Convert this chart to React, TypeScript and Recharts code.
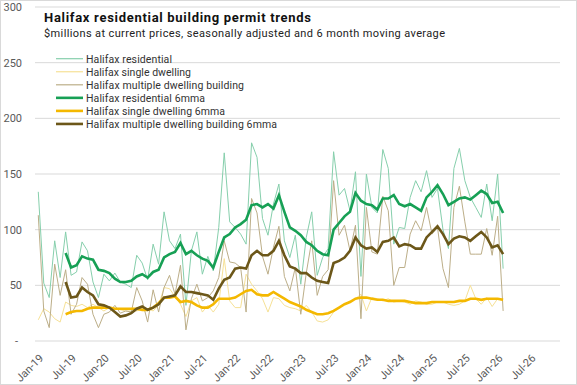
import React from 'react';
import { LineChart, Line, XAxis, YAxis, CartesianGrid } from 'recharts';

const tickLabels = ['Jan-19','Jul-19','Jan-20','Jul-20','Jan-21','Jul-21','Jan-22','Jul-22','Jan-23','Jul-23','Jan-24','Jul-24','Jan-25','Jul-25','Jan-26','Jul-26'];

const residential = [134,52,39,90,57,98,59,62,89,81,53,39,60,54,61,53,51,48,77,70,
  55,87,69,116,90,83,96,32,81,98,60,76,63,102,169,107,102,96,87,178,
  165,110,95,123,141,90,75,95,51,93,116,59,75,83,170,131,137,117,152,58,
  150,120,115,172,155,87,102,101,129,144,134,153,129,137,100,83,155,173,144,129,
  120,111,141,108,150,65];

const single = [19,29,26,20,17,35,32,31,33,30,33,30,27,30,29,28,27,27,27,29,
  29,27,32,48,47,40,33,22,36,39,26,32,26,33,74,36,30,30,60,51,
  45,38,26,39,38,32,30,29,27,32,26,18,17,19,26,30,33,36,38,42,
  27,39,38,36,38,35,36,35,33,36,35,33,33,35,35,33,32,33,36,50,
  38,33,39,31,38,36];

const multiple = [113,27,12,69,41,64,24,33,57,51,24,12,24,26,32,25,27,26,48,36,
  17,46,26,48,59,42,68,10,38,51,36,39,45,57,90,71,70,66,26,128,
  115,76,60,84,103,58,45,66,24,61,90,41,58,64,144,95,104,81,104,20,
  120,80,78,130,117,50,66,66,96,108,99,120,96,102,65,48,120,139,107,78,
  78,78,101,77,112,27];

const residential6 = [null,null,null,null,null,79,66,68,76,74,73,64,63,61,56,53,53,54,58,60,
  57,62,64,75,78,80,88,78,81,77,74,72,66,80,93,96,102,105,109,122,
  123,120,123,119,131,116,102,99,95,89,86,81,78,77,100,106,112,116,133,126,
  123,122,118,128,128,131,123,121,123,120,117,129,134,140,132,122,125,128,129,127,
  131,135,132,124,125,115];

const single6 = [null,null,null,null,null,24,26,27,27,29,30,30,30,30,29,29,29,29,29,28,
  28,30,34,39,39,40,35,36,35,32,30,30,33,38,38,38,39,42,45,46,
  42,41,41,44,41,38,35,33,31,28,26,24,24,25,27,30,33,35,38,39,
  39,38,37,37,36,36,36,36,35,34,34,34,35,35,35,35,35,36,36,38,
  38,37,38,38,38,37];

const multiple6 = [null,null,null,null,null,53,39,40,48,44,41,33,32,30,26,22,23,25,29,31,
  28,30,33,39,40,41,49,44,44,43,42,41,37,47,55,57,65,66,65,77,
  81,77,77,81,90,77,67,65,61,61,57,54,53,52,70,72,75,81,93,86,
  83,84,80,89,90,93,85,87,86,83,83,93,98,103,96,87,92,94,93,90,
  94,98,93,84,86,78];

const yTicks = [0, 50, 100, 150, 200, 250, 300];

const data = residential.map((v, i) => ({
  m: i,
  residential: v,
  single: single[i],
  multiple: multiple[i],
  residential6: residential6[i],
  single6: single6[i],
  multiple6: multiple6[i],
}));

const xTicks = tickLabels.map((_, i) => i * 6);

const FONT = 'Roboto, "Open Sans", sans-serif';

const YTick = (props: any) => {
  const { y, payload } = props;
  const isZero = payload.value === 0;
  return (
    <text x={isZero ? 18 : 22} y={y} dy={4} textAnchor="end" fontSize={11} fill="#595959" fontFamily={FONT}>
      {isZero ? '-' : String(payload.value)}
    </text>
  );
};

const XTick = (props: any) => {
  const { x, payload } = props;
  const label = tickLabels[Math.round(payload.value / 6)] ?? '';
  return (
    <text x={0} y={0} dy={4} transform={`translate(${x + 3},${356}) rotate(-45)`} textAnchor="end" fontSize={11} fill="#595959" fontFamily={FONT}>
      {label}
    </text>
  );
};

const legendItems = [
  { name: 'Halifax residential', color: '#86cfac', w: 1.2, len: 86 },
  { name: 'Halifax single dwelling', color: '#f6e196', w: 1.2, len: 105 },
  { name: 'Halifax multiple dwelling building', color: '#bcae88', w: 1.2, len: 158 },
  { name: 'Halifax residential 6mma', color: '#17a055', w: 2.6, len: 119 },
  { name: 'Halifax single dwelling 6mma', color: '#f4b800', w: 2.6, len: 139 },
  { name: 'Halifax multiple dwelling building 6mma', color: '#6c5719', w: 2.6, len: 191 },
];

export default function App() {
  return (
    <div style={{ position: 'fixed', left: 0, top: 0, width: 577, height: 385, background: '#fff' }}>
      <LineChart width={577} height={385} data={data} margin={{ top: 7, right: 17, bottom: 0, left: 0 }}>
        <CartesianGrid vertical={false} stroke="#d9d9d9" />
        <XAxis
          dataKey="m"
          type="number"
          domain={[-0.6, 95.4]}
          allowDataOverflow
          ticks={xTicks}
          interval={0}
          height={44}
          axisLine={false}
          tickLine={false}
          tick={<XTick />}
        />
        <YAxis
          domain={[0, 300]}
          ticks={yTicks}
          width={35}
          axisLine={false}
          tickLine={false}
          tick={<YTick />}
          interval={0}
        />
        <Line dataKey="residential" stroke="#86cfac" strokeWidth={1} dot={false} isAnimationActive={false} />
        <Line dataKey="single" stroke="#f6e196" strokeWidth={1} dot={false} isAnimationActive={false} />
        <Line dataKey="multiple" stroke="#bcae88" strokeWidth={1} dot={false} isAnimationActive={false} />
        <Line dataKey="residential6" stroke="#17a055" strokeWidth={2.6} dot={false} isAnimationActive={false} connectNulls={false} />
        <Line dataKey="single6" stroke="#f4b800" strokeWidth={2.6} dot={false} isAnimationActive={false} connectNulls={false} />
        <Line dataKey="multiple6" stroke="#6c5719" strokeWidth={2.6} dot={false} isAnimationActive={false} connectNulls={false} />
      </LineChart>
      <svg width={577} height={385} style={{ position: 'absolute', left: 0, top: 0, pointerEvents: 'none' }}>
        <text x={44} y={22} fontSize={13} fontWeight={700} fill="#111" fontFamily={FONT} textLength={267} lengthAdjust="spacing">
          Halifax residential building permit trends
        </text>
        <text x={44} y={37} fontSize={11} fill="#222" fontFamily={FONT} textLength={401} lengthAdjust="spacing">
          $millions at current prices, seasonally adjusted and 6 month moving average
        </text>
        {legendItems.map((it, i) => {
          const cy = 58.7 + i * 13.05;
          return (
            <g key={it.name}>
              <line x1={56} x2={83} y1={cy} y2={cy} stroke={it.color} strokeWidth={it.w} />
              <text x={86} y={cy} dy={3.8} fontSize={10.5} fill="#333" fontFamily={FONT} textLength={it.len} lengthAdjust="spacing">
                {it.name}
              </text>
            </g>
          );
        })}
        <rect x={0.5} y={0.5} width={576} height={384} fill="none" stroke="#d9d9d9" />
      </svg>
    </div>
  );
}
